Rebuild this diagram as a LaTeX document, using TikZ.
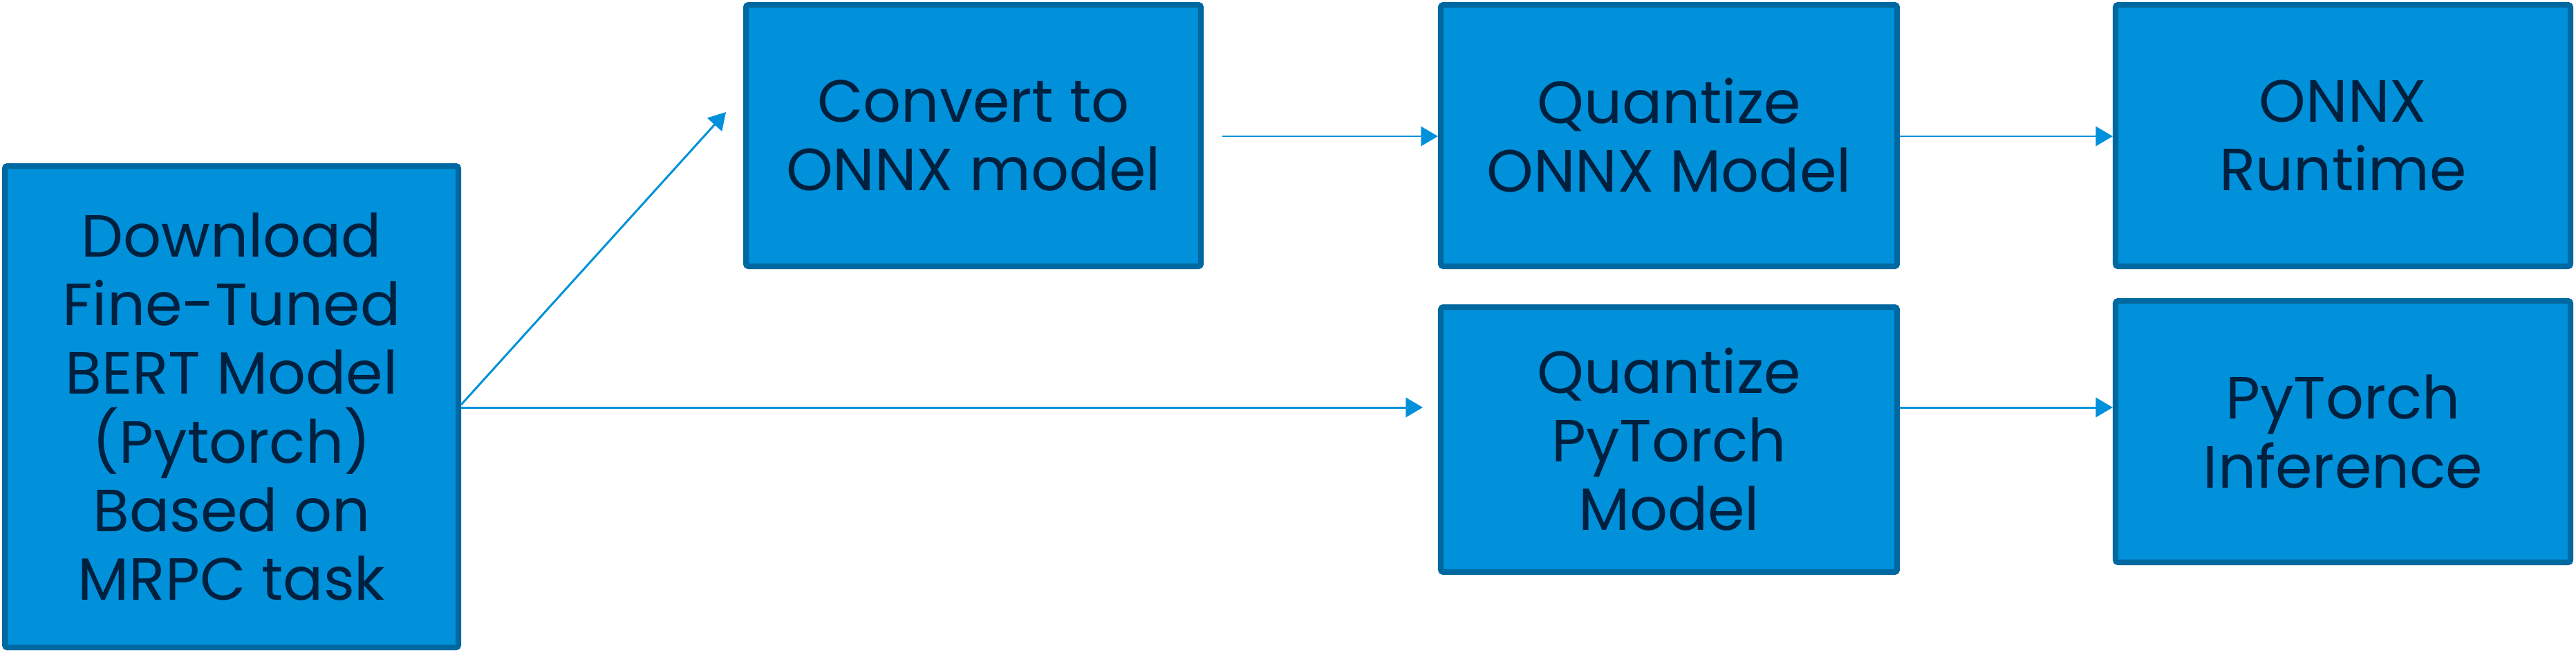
\documentclass[tikz,border=0pt]{standalone}
\usepackage{fontspec}
\setmainfont{Poppins}
\usetikzlibrary{arrows.meta}
\definecolor{boxfill}{HTML}{0091DA}
\definecolor{boxline}{HTML}{0068A0}
\definecolor{boxtext}{HTML}{00203F}
\definecolor{arrowcol}{HTML}{0091DA}
\begin{document}
\begin{tikzpicture}[
	stepbox/.style={draw=boxline, fill=boxfill, line width=2.3pt,
		rounded corners=1pt, text=boxtext, align=center, inner sep=0pt,
		font=\fontsize{24.5}{28.2}\selectfont},
	flow/.style={draw=arrowcol, line width=0.85pt,
		-{Triangle[length=7pt, width=8pt]}}
	]
	\useasboundingbox (0,0) rectangle (37.26,-9.44);
	% Schritte
	\node[stepbox, minimum width=6.56cm, minimum height=6.96cm] (download)
	at (3.35,-5.88) {Download\\Fine-Tuned\\BERT Model\\(Pytorch)\\Based on\\MRPC task};
	\node[stepbox, minimum width=6.58cm, minimum height=3.78cm] (convert)
	at (14.08,-1.96) {Convert to\\ONNX model};
	\node[stepbox, minimum width=6.60cm, minimum height=3.78cm] (quantonnx)
	at (24.14,-1.96) {Quantize\\ONNX Model};
	\node[stepbox, minimum width=6.58cm, minimum height=3.78cm] (runtime)
	at (33.89,-1.96) {ONNX\\Runtime};
	\node[stepbox, minimum width=6.60cm, minimum height=3.83cm] (quanttorch)
	at (24.14,-6.355) {Quantize\\PyTorch\\Model};
	\node[stepbox, minimum width=6.58cm, minimum height=3.78cm] (inference)
	at (33.89,-6.24) {PyTorch\\Inference};
	% freie Pfeilenden
	\coordinate (diagend) at (10.50,-1.62);
	\coordinate (torchend) at (20.58,-5.89);
	\coordinate (convstart) at (17.68,-1.97);
	% Pfeile
	\draw[flow] (download.east |- 0,-5.85) -- (diagend);
	\draw[flow] (download.east |- torchend) -- (torchend);
	\draw[flow] (convstart) -- (quantonnx.west |- convstart);
	\draw[flow] (quantonnx.east |- convstart) -- (runtime.west |- convstart);
	\draw[flow] (quanttorch.east |- torchend) -- (inference.west |- torchend);
\end{tikzpicture}
\end{document}
